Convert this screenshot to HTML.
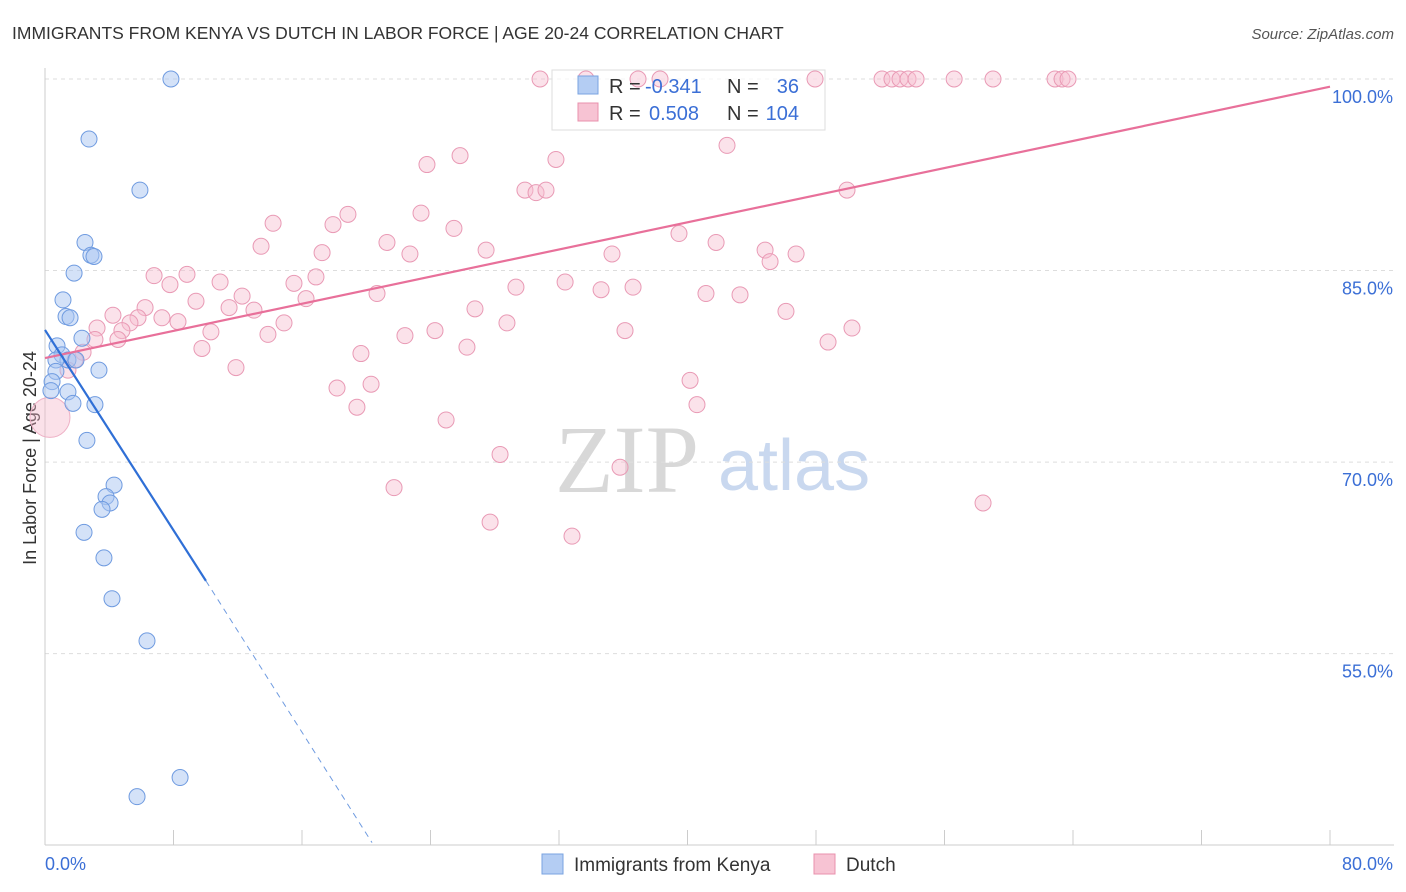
<!DOCTYPE html>
<html><head><meta charset="utf-8"><style>
body{margin:0;background:#fff;font-family:"Liberation Sans",sans-serif;}
svg{display:block}
</style></head><body>
<svg id="c" width="1406" height="892">
<text x="12" y="39" font-size="17.5" fill="#333">IMMIGRANTS FROM KENYA VS DUTCH IN LABOR FORCE | AGE 20-24 CORRELATION CHART</text>
<text x="1394" y="39" font-size="15" fill="#555" text-anchor="end" font-style="italic">Source: ZipAtlas.com</text>
<text x="36" y="458" font-size="18" fill="#333" text-anchor="middle" transform="rotate(-90 36 458)">In Labor Force | Age 20-24</text>
<text x="555" y="492" font-size="96" fill="#d8d8d8" font-family="Liberation Serif,serif">ZIP</text>
<text x="718" y="490" font-size="72" fill="#c9d8ef">atlas</text>
<g id="grid"></g>
<g>
<rect x="552" y="70" width="273" height="60" fill="rgba(255,255,255,0.7)" stroke="#ddd"/>
</g>
<g id="pts"></g><g id="lines"></g>
<g>
<rect x="578" y="76" width="20" height="18" fill="#b4cdf3" stroke="#7aa3e0"/>
<text x="609" y="93" font-size="20" fill="#333">R =</text>
<text x="645" y="93" font-size="20" fill="#3b6fd6">-0.341</text>
<text x="727" y="93" font-size="20" fill="#333">N =</text>
<text x="799" y="93" font-size="20" fill="#3b6fd6" text-anchor="end">36</text>
<rect x="578" y="103" width="20" height="18" fill="#f7c3d3" stroke="#e890ad"/>
<text x="609" y="120" font-size="20" fill="#333">R =</text>
<text x="649" y="120" font-size="20" fill="#3b6fd6">0.508</text>
<text x="727" y="120" font-size="20" fill="#333">N =</text>
<text x="799" y="120" font-size="20" fill="#3b6fd6" text-anchor="end">104</text>
</g>
<g>
<rect x="542" y="854" width="21" height="20" fill="#b4cdf3" stroke="#7aa3e0"/>
<text x="574" y="871" font-size="19" fill="#333">Immigrants from Kenya</text>
<rect x="814" y="854" width="21" height="20" fill="#f7c3d3" stroke="#e890ad"/>
<text x="846" y="871" font-size="19" fill="#333">Dutch</text>
</g>
</svg>
<script>
const kenyaX=[7.84,2.74,5.91,2.49,2.86,3.05,1.81,1.12,1.31,1.56,2.30,0.75,1.06,1.43,0.68,1.93,3.36,0.68,0.44,0.37,1.43,1.74,3.11,2.61,4.30,3.80,4.05,3.55,2.43,3.67,4.17,6.35,8.41,5.73];
const kenyaY=[100,95.3,91.3,87.2,86.2,86.1,84.8,82.7,81.4,81.3,79.7,79.1,78.4,78.0,78.0,78.0,77.2,77.1,76.3,75.6,75.5,74.6,74.5,71.7,68.2,67.3,66.8,66.3,64.5,62.5,59.3,56.0,45.3,43.8];
const dutchX=[30.82,36.92,38.29,47.94,52.11,52.73,53.23,53.73,54.23,56.60,59.02,62.88,63.32,63.69,33.68,42.46,25.84,31.81,23.78,29.88,30.57,31.19,49.93,23.41,18.86,14.20,17.93,25.46,39.47,21.29,41.78,13.45,44.83,46.76,22.72,17.25,27.46,35.30,45.14,6.79,8.84,16.87,10.90,7.78,15.50,29.32,32.38,36.61,34.62,41.15,43.27,20.67,12.27,16.25,9.40,6.23,11.46,13.01,4.23,7.28,5.79,26.77,46.13,8.28,14.88,3.24,5.29,4.79,28.76,24.28,36.11,50.24,13.88,10.33,22.41,3.11,4.54,48.75,26.27,9.77,2.37,19.67,1.87,11.89,1.43,40.16,20.30,18.18,19.42,40.59,24.97,28.33,35.80,21.73,58.40,27.71,32.81];
const dutchY=[100,100,100,100,100,100,100,100,100,100,100,100,100,100,100,94.8,94.0,93.7,93.3,91.3,91.1,91.3,91.3,89.5,89.4,88.7,88.6,88.3,87.9,87.2,87.2,86.9,86.6,86.3,86.3,86.4,86.6,86.3,85.7,84.6,84.7,84.5,84.1,83.9,84.0,83.7,84.1,83.7,83.5,83.2,83.1,83.2,83.0,82.8,82.6,82.1,82.1,81.9,81.5,81.3,81.3,82.0,81.8,81.0,80.9,80.5,80.9,80.3,80.9,80.3,80.3,80.5,80.0,80.2,79.9,79.6,79.6,79.4,79.0,78.9,78.6,78.5,78.0,77.4,77.2,76.4,76.1,75.8,74.3,74.5,73.3,70.6,69.6,68.0,66.8,65.3,64.2];
const yTicks=[100,85,70,55];
const xTickLabels=["0.0%","80.0%"];
const kenyaTrend=[[0,80.35],[10.02,60.7]], kenyaDash=[[10.02,60.7],[20.36,40.2]];
const dutchTrend=[[0,78.15],[80,99.4]];
const X=v=>45+v/80*1285, Y=v=>79+(100-v)*12.77;
const NS="http://www.w3.org/2000/svg";
function mk(t,a,p){const e=document.createElementNS(NS,t);for(const k in a)e.setAttribute(k,a[k]);p.appendChild(e);return e;}
const g=document.getElementById('grid'),pts=document.getElementById('pts'),ln=document.getElementById('lines');
yTicks.forEach(v=>{
 const l=mk('line',{x1:45,x2:1394,y1:Y(v),y2:Y(v),stroke:'#ddd','stroke-dasharray':'4 4'},g);
 
 
 const t=mk('text',{x:1393,y:Y(v)+24,'font-size':18,fill:'#3b6fd6','text-anchor':'end'},g);t.textContent=v.toFixed(1)+'%';
 
 
});
mk('line',{x1:45,x2:45,y1:68,y2:845,stroke:'#ccc'},g);
mk('line',{x1:45,x2:1394,y1:845,y2:845,stroke:'#ccc'},g);
for(let i=0;i<=10;i++){mk('line',{x1:X(i*8),x2:X(i*8),y1:830,y2:845,stroke:'#ccc'},g);}
[[0,45,'start'],[1,1393,'end']].forEach(([i,x,a])=>{const t=mk('text',{x:x,y:870,'font-size':18,fill:'#3b6fd6','text-anchor':a},g);t.textContent=xTickLabels[i];
 
 });
const bigD=mk('circle',{cx:X(0.31),cy:Y(73.5),r:20,fill:'rgba(245,180,200,0.4)',stroke:'#eeb0c5'},pts);


dutchX.forEach((x,i)=>{const c=mk('circle',{cx:X(x),cy:Y(dutchY[i]),r:8,fill:'rgba(247,190,208,0.45)',stroke:'#e99ab5'},pts);
 
 });
kenyaX.forEach((x,i)=>{const c=mk('circle',{cx:X(x),cy:Y(kenyaY[i]),r:8,fill:'rgba(170,198,242,0.5)',stroke:'#6f9be0'},pts);
 
 });
function seg(s,st,w,d,name){const l=mk('line',{x1:X(s[0][0]),y1:Y(s[0][1]),x2:X(s[1][0]),y2:Y(s[1][1]),stroke:st,'stroke-width':w},ln);if(d)l.setAttribute('stroke-dasharray',d);
 
 }
seg(dutchTrend,'#e8709a',2.2,null,'dutch-trend-line');
seg(kenyaTrend,'#2f6fd6',2.2,null,'kenya-trend-line');
seg(kenyaDash,'#6f9be0',1,'6 5','kenya-trend-extension');
</script>
</body></html>
